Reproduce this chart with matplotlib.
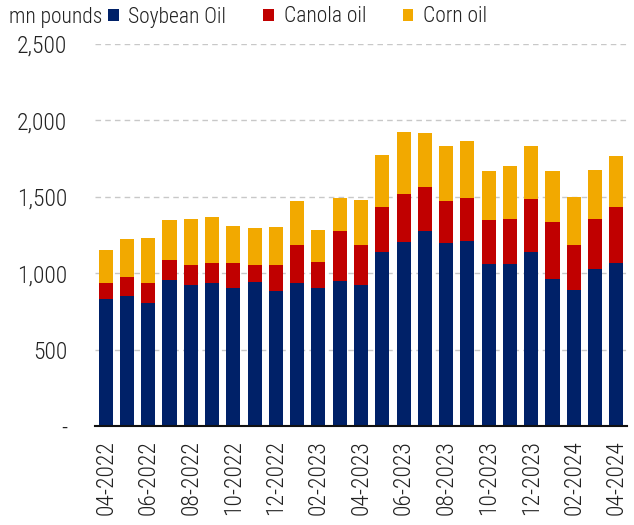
import numpy as np
import matplotlib
matplotlib.use('Agg')
import matplotlib.pyplot as plt
from matplotlib.ticker import FuncFormatter

plt.rcParams['font.family'] = ['Roboto Condensed', 'DejaVu Sans']
plt.rcParams['font.weight'] = 'light'

months = ['04-2022', '05-2022', '06-2022', '07-2022', '08-2022', '09-2022', '10-2022',
          '11-2022', '12-2022', '01-2023', '02-2023', '03-2023', '04-2023', '05-2023',
          '06-2023', '07-2023', '08-2023', '09-2023', '10-2023', '11-2023', '12-2023',
          '01-2024', '02-2024', '03-2024', '04-2024']

# cumulative tops, converted to components below
soy_top = [834, 854, 808, 955, 922, 935, 906, 941, 882, 939, 906, 952, 926,
           1138, 1206, 1273, 1197, 1208, 1062, 1062, 1142, 961, 887, 1027, 1070]
canola_top = [937, 972, 933, 1086, 1055, 1064, 1070, 1055, 1053, 1182, 1075, 1273, 1182,
              1435, 1520, 1566, 1472, 1490, 1345, 1352, 1483, 1332, 1182, 1352, 1431]
corn_top = [1149, 1221, 1230, 1348, 1354, 1365, 1311, 1297, 1304, 1470, 1284, 1494, 1479,
            1771, 1925, 1920, 1835, 1863, 1671, 1704, 1830, 1671, 1496, 1673, 1767]

soybean = np.array(soy_top)
canola = np.array(canola_top) - soybean
corn = np.array(corn_top) - np.array(canola_top)

c_soy = '#002168'
c_can = '#C00000'
c_corn = '#F2A900'
txt = '#222222'

fig = plt.figure(figsize=(6.34, 5.25), dpi=100)
ax = fig.add_axes([95 / 634, 1 - 426 / 525, 532 / 634, 382 / 525])

x = np.arange(len(months))
w = 0.66
ax.bar(x, soybean, w, color=c_soy, label='Soybean Oil', zorder=3)
ax.bar(x, canola, w, bottom=soybean, color=c_can, label='Canola oil', zorder=3)
ax.bar(x, corn, w, bottom=soybean + canola, color=c_corn, label='Corn oil', zorder=3)

ax.set_xlim(-0.5, len(months) - 0.5)
ax.set_ylim(0, 2500)
ax.set_yticks([0, 500, 1000, 1500, 2000, 2500])
ax.yaxis.set_major_formatter(FuncFormatter(lambda v, p: '-' if v == 0 else f'{int(v):,}'))
ax.grid(axis='y', color='#c8c8c8', linestyle=(0, (4, 3)), linewidth=1, zorder=0)
ax.set_xticks(x[::2])
ax.set_xticklabels(months[::2], rotation=90)
ax.tick_params(axis='both', length=0, labelsize=17, colors=txt)
ax.tick_params(axis='y', pad=20)
ax.tick_params(axis='x', pad=10)

for s in ['left', 'right', 'top']:
    ax.spines[s].set_visible(False)
ax.spines['bottom'].set_color('#111111')
ax.spines['bottom'].set_linewidth(1.5)
ax.spines['bottom'].set_zorder(4)

fig.text(9 / 634, 1 - 17 / 525, 'mn pounds', fontsize=15.5, va='center', color=txt)
leg = ax.legend(loc='center left', ncol=3, frameon=False, fontsize=15.5,
                handlelength=0.5, handleheight=0.5, handletextpad=0.45,
                columnspacing=1.7, borderaxespad=0, borderpad=0,
                bbox_to_anchor=(108 / 634, 1 - 17 / 525), bbox_transform=fig.transFigure)
for t in leg.get_texts():
    t.set_color(txt)

fig.savefig('out.png', dpi=100)
